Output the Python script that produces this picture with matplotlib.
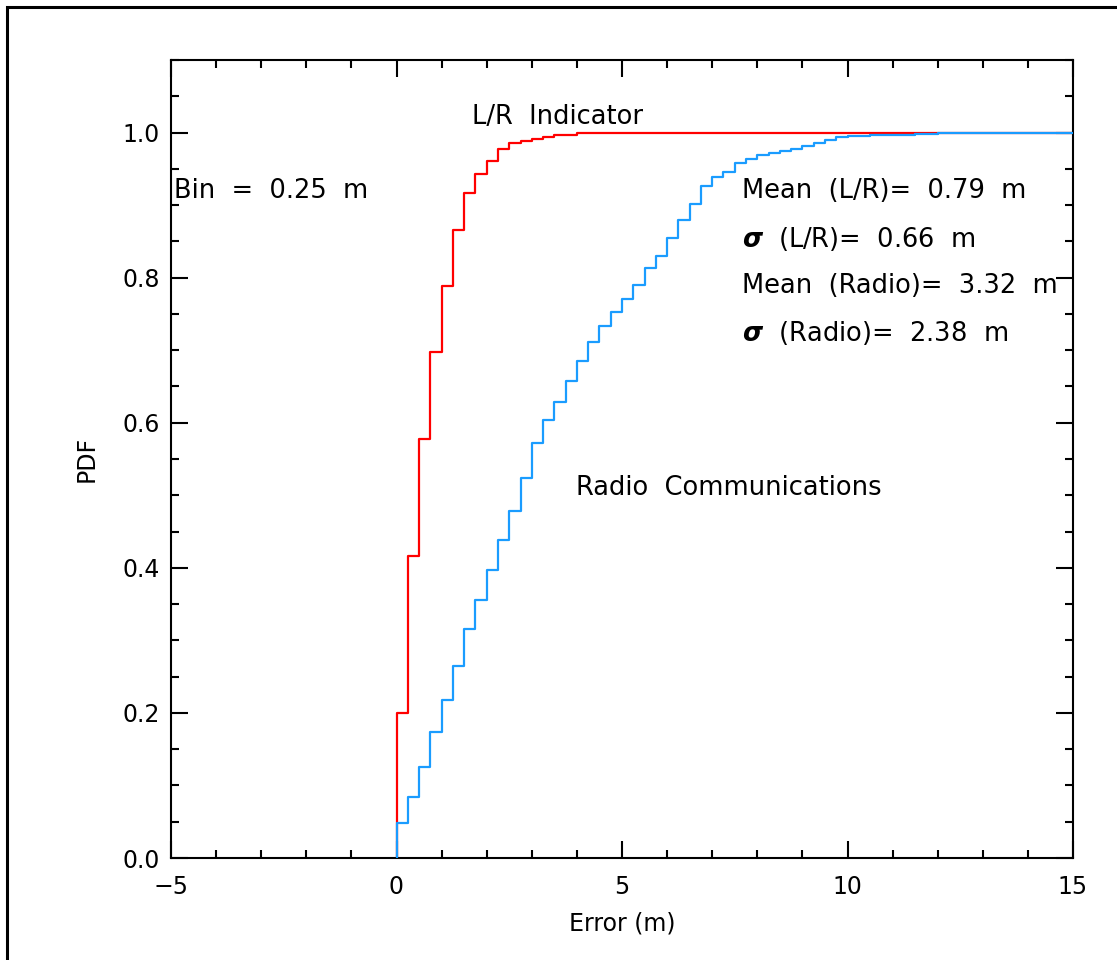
"""Cumulative error distributions: L/R indicator vs radio communications"""

import numpy as np
import matplotlib.pyplot as plt
from matplotlib.patches import Rectangle
from matplotlib.ticker import MultipleLocator

# Bin width (m) and cumulative values per bin
bin_width = 0.25
x_end = 15.0

lr_cdf = [0.200, 0.416, 0.578, 0.697, 0.788, 0.865, 0.917, 0.943, 0.961,
          0.978, 0.986, 0.989, 0.991, 0.994, 0.996, 0.997, 0.999, 1.000]

radio_cdf = [0.048, 0.084, 0.125, 0.173, 0.218, 0.264, 0.316, 0.355, 0.397,
             0.438, 0.479, 0.524, 0.572, 0.604, 0.629, 0.658, 0.685, 0.711,
             0.733, 0.753, 0.770, 0.790, 0.813, 0.830, 0.854, 0.879, 0.902,
             0.927, 0.939, 0.946, 0.958, 0.963, 0.969, 0.972, 0.974, 0.978,
             0.981, 0.986, 0.990, 0.994, 0.995, 0.995, 0.996, 0.996, 0.997,
             0.997, 0.998, 0.998, 0.999, 1.000]

x_ticks = [-5, 0, 5, 10, 15]
x_tick_labels = ['\u22125', '0', '5', '10', '15']
y_ticks = [0.0, 0.2, 0.4, 0.6, 0.8, 1.0]
y_tick_labels = ['0.0', '0.2', '0.4', '0.6', '0.8', '1.0']

stats_lines = ['Mean  (L/R)=  0.79  m',
               '$\\boldsymbol{\\sigma}$  (L/R)=  0.66  m',
               'Mean  (Radio)=  3.32  m',
               '$\\boldsymbol{\\sigma}$  (Radio)=  2.38  m']
stats_y = [0.92, 0.853, 0.788, 0.723]

plt.rcParams['font.family'] = 'DejaVu Sans'
plt.rcParams['mathtext.fontset'] = 'dejavusans'


def step_xy(cdf):
    """Edges and values for a step line starting from zero at x=0"""
    edges = np.append(np.arange(len(cdf)) * bin_width, x_end)
    xs = np.concatenate([[0.0], edges])
    ys = np.concatenate([[0.0], cdf, [cdf[-1]]])
    return xs, ys


fig = plt.figure(figsize=(11.17, 9.6), dpi=100)
ax = fig.add_axes([171 / 1117, 1 - 858 / 960, (1073 - 171) / 1117, (858 - 60) / 960])

# Frame around the whole picture (cut off at right and bottom)
fig.add_artist(Rectangle((7 / 1117, -0.1), 1.2, 1.1 - 7 / 960, transform=fig.transFigure,
                         fill=False, lw=2.2, edgecolor='black'))

xs, ys = step_xy(lr_cdf)
ax.step(xs, ys, where='post', color='#ff0000', lw=1.6, zorder=2)
xs, ys = step_xy(radio_cdf)
ax.step(xs, ys, where='post', color='#1a9cff', lw=1.6, zorder=3)

ax.set_xlim(-5, 15)
ax.set_ylim(0, 1.1)
ax.set_xticks(x_ticks)
ax.set_xticklabels(x_tick_labels)
ax.set_yticks(y_ticks)
ax.set_yticklabels(y_tick_labels)
ax.xaxis.set_minor_locator(MultipleLocator(1))
ax.yaxis.set_minor_locator(MultipleLocator(0.05))

ax.tick_params(which='both', direction='in', top=True, right=True, width=1.5,
               labelsize=17)
ax.tick_params(which='major', length=12.5)
ax.tick_params(which='minor', length=6)
ax.tick_params(axis='x', pad=12)
ax.tick_params(axis='y', pad=8)
for s in ax.spines.values():
    s.set_linewidth(1.5)

ax.set_xlabel('Error (m)', fontsize=17, labelpad=9)
ax.set_ylabel('PDF', fontsize=17, labelpad=17)

# Annotations
ann_size = 18.5
ax.text(1.68, 1.021, 'L/R  Indicator', fontsize=ann_size, va='center')
ax.text(-4.93, 0.92, 'Bin  =  0.25  m', fontsize=ann_size, va='center')
ax.text(3.99, 0.51, 'Radio  Communications', fontsize=ann_size, va='center')
for line, y in zip(stats_lines, stats_y):
    ax.text(7.67, y, line, fontsize=ann_size, va='center')

plt.savefig('out.png', dpi=100)
